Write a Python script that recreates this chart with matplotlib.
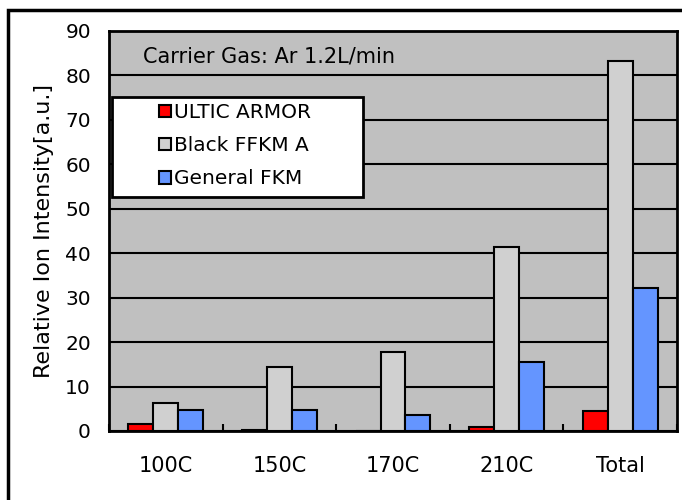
import matplotlib
matplotlib.use("Agg")
import matplotlib.pyplot as plt
import numpy as np
from matplotlib.patches import Rectangle

plt.rcParams['font.family'] = ['DejaVu Sans']

categories = ["100C", "150C", "170C", "210C", "Total"]
series_names = ["ULTIC ARMOR", "Black FFKM A", "General FKM"]
ultic = [1.5, 0.3, 0.1, 0.8, 4.6]
black_ffkm = [6.2, 14.5, 17.8, 41.5, 83.2]
general_fkm = [4.8, 4.7, 3.5, 15.6, 32.2]
colors = ["#FF0000", "#D0D0D0", "#6495FF"]
yticks = [0, 10, 20, 30, 40, 50, 60, 70, 80, 90]

fig = plt.figure(figsize=(6.82, 5.0), dpi=100)
# outer frame
fig.patches.append(Rectangle((8/682, -0.1), 1.2, 1 - 10/500 + 0.1, transform=fig.transFigure,
                             fill=False, edgecolor='black', linewidth=2.5, zorder=0))

ax = fig.add_axes([109/682, 1 - 431/500, (677 - 109)/682, (431 - 31)/500])
ax.set_facecolor("#C0C0C0")

x = np.arange(len(categories))
w = 0.22
for i, (vals, c, name) in enumerate(zip([ultic, black_ffkm, general_fkm], colors, series_names)):
    ax.bar(x + (i - 1) * w, vals, width=w, color=c, edgecolor='black', linewidth=1.5,
           label=name, zorder=3)

ax.set_xlim(-0.5, len(categories) - 0.5)
ax.set_ylim(0, 90)
ax.set_yticks(yticks)
ax.set_yticklabels([str(v) for v in yticks], fontsize=14.5)
ax.set_xticks(x)
ax.set_xticklabels(categories, fontsize=15)
ax.set_xticks(np.arange(len(categories) + 1) - 0.5, minor=True)
ax.tick_params(axis='x', which='major', length=0, pad=18)
ax.tick_params(axis='x', which='minor', direction='in', length=5, width=1.5)
ax.tick_params(axis='y', length=0, pad=13)
ax.yaxis.grid(True, color='black', linewidth=1.5, zorder=1)
ax.set_axisbelow(True)
for s in ax.spines.values():
    s.set_linewidth(2)

ax.set_ylabel("Relative Ion Intensity[a.u.]", fontsize=16, labelpad=8)

ax.text(0.06, 0.935, "Carrier Gas: Ar 1.2L/min", transform=ax.transAxes, fontsize=15,
        va='center', ha='left')

# legend box
ax.add_patch(Rectangle((0.006, 0.585), 0.441, 0.25, transform=ax.transAxes, facecolor='white',
                       edgecolor='black', linewidth=2, zorder=5))
leg = ax.legend(loc='upper left', bbox_to_anchor=(0.077, 0.835), fontsize=14.5, frameon=False,
                borderpad=0.3, handlelength=0.6, handleheight=0.6, handletextpad=0.15,
                labelspacing=0.7, borderaxespad=0.0)
leg.set_zorder(6)

fig.savefig("out.png", dpi=100)
